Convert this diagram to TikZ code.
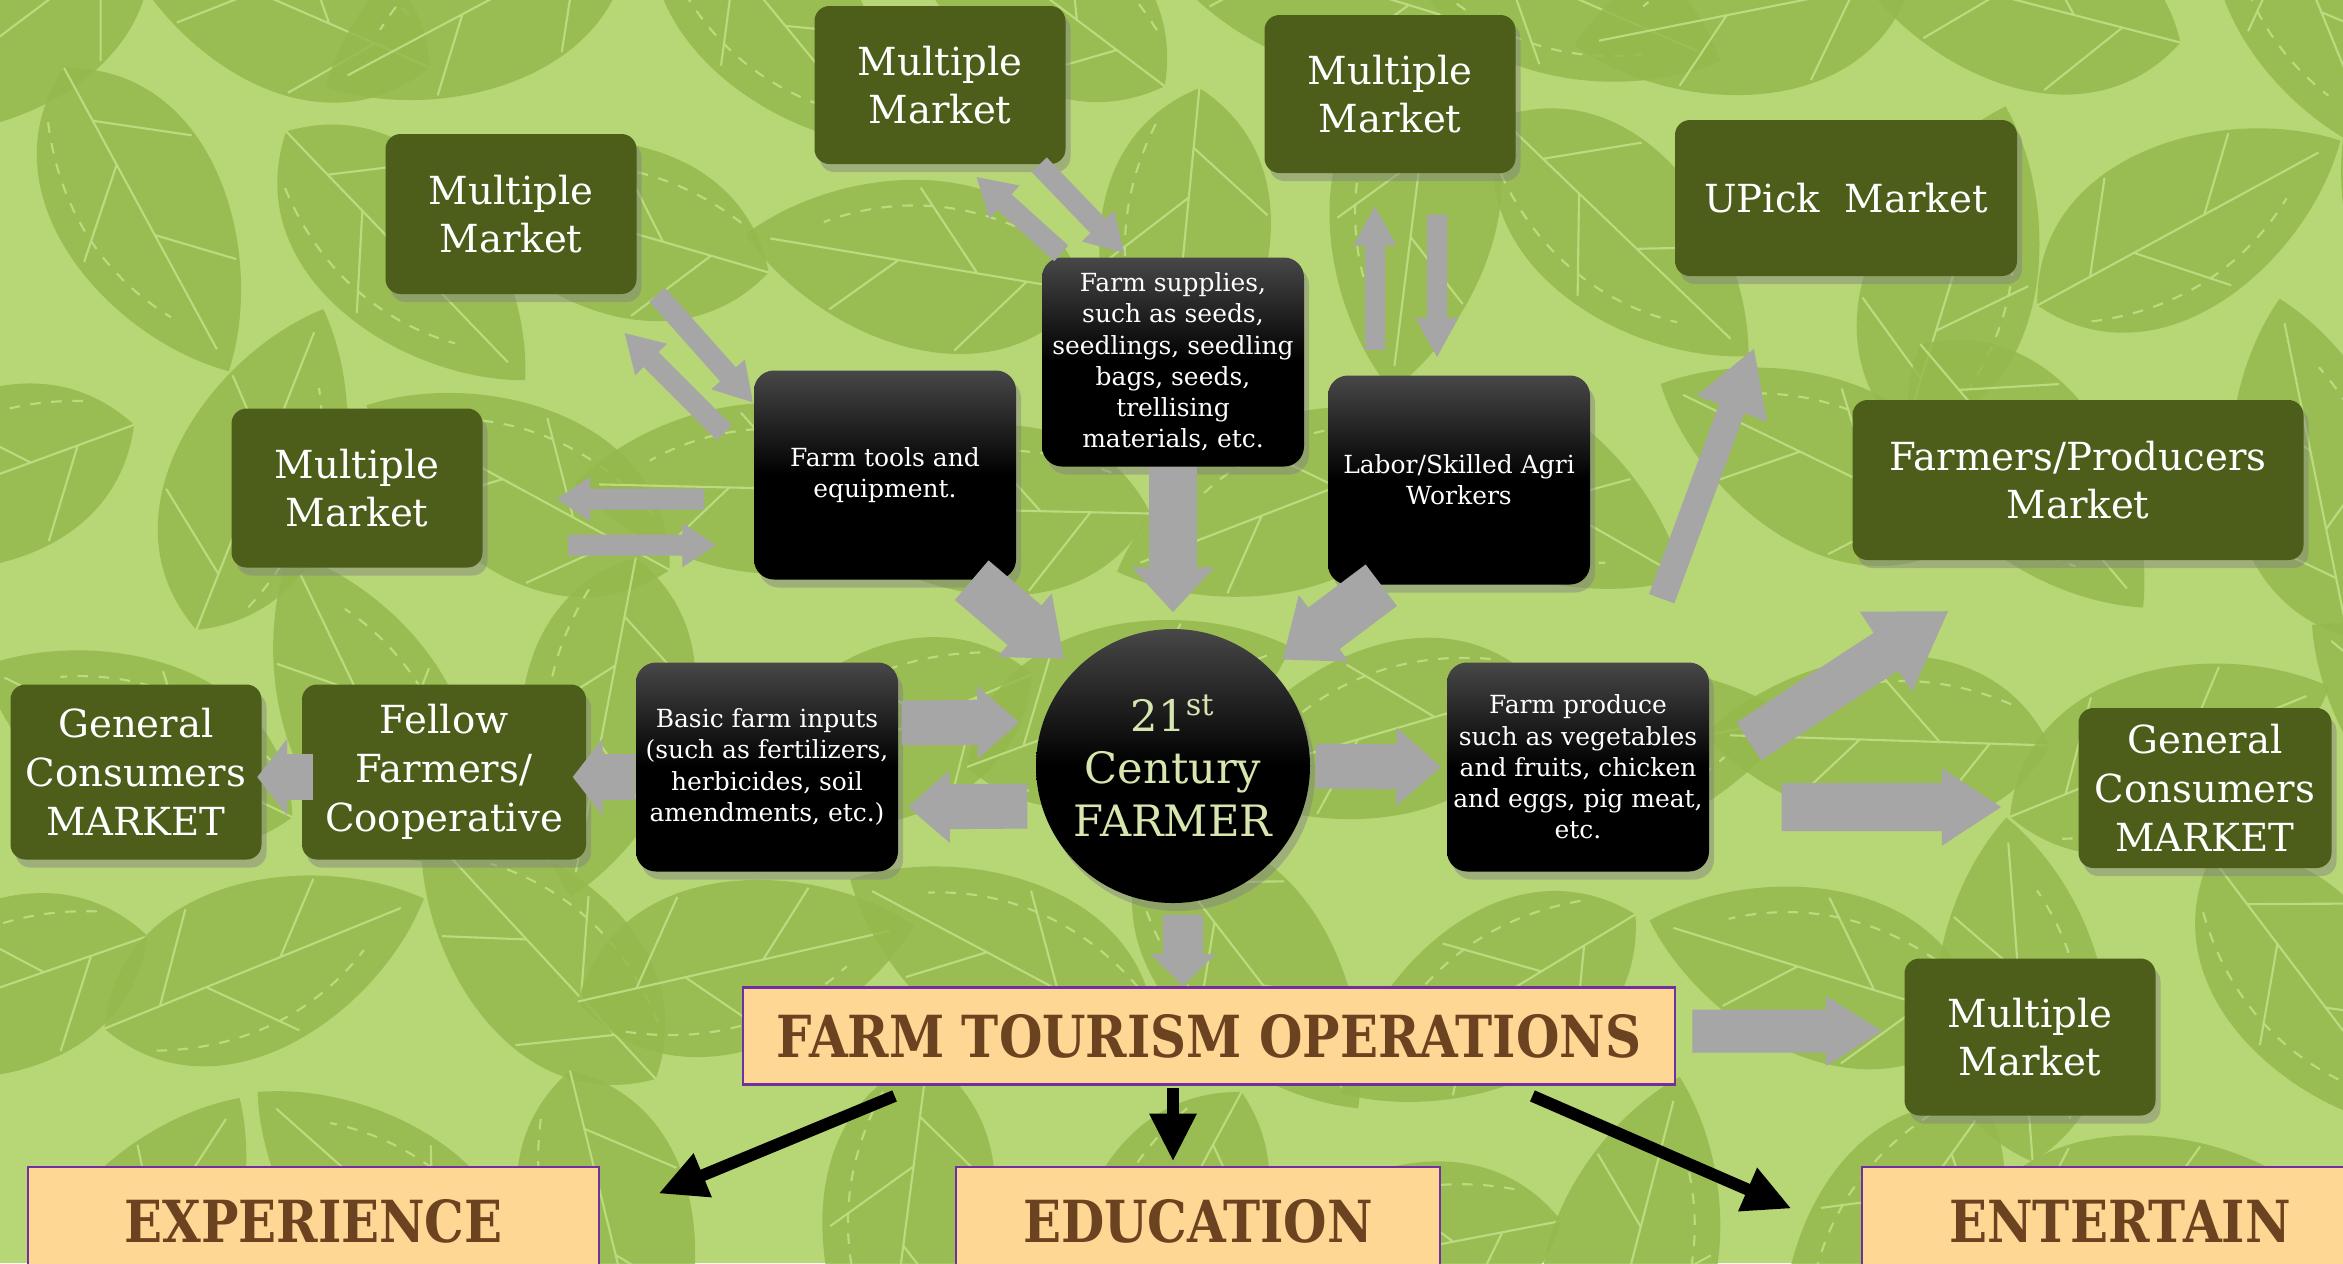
\documentclass[tikz,border=0pt]{standalone}
\usepackage{fontspec}
\setmainfont{DejaVu Serif}
\newfontfamily\headfont[FakeStretch=0.86]{DejaVu Serif}
\usetikzlibrary{arrows.meta,shadows}

\definecolor{bggreen}{RGB}{183,214,118}
\definecolor{leafgreen}{RGB}{150,185,78}
\definecolor{veingreen}{RGB}{188,219,128}
\definecolor{boxgreen}{RGB}{76,94,26}
\definecolor{tanfill}{RGB}{255,215,148}
\definecolor{tanline}{RGB}{112,48,160}
\definecolor{tantext}{RGB}{107,67,33}
\definecolor{farmertext}{RGB}{215,230,175}
\definecolor{arrowgray}{RGB}{166,166,166}

\begin{document}
\begin{tikzpicture}[
  market/.style={rectangle,rounded corners=1.5mm,fill=boxgreen,text=white,align=center,
    inner sep=0pt,font=\fontsize{11}{13.9}\selectfont,
    drop shadow={shadow xshift=.5mm,shadow yshift=-.8mm,opacity=.45}},
  blackbox/.style={rectangle,rounded corners=2mm,top color=black!72,bottom color=black,
    middle color=black,text=white,align=center,inner sep=0pt,minimum width=2.62cm,
    minimum height=2.09cm,font=\fontsize{7.1}{8.9}\selectfont,
    drop shadow={shadow xshift=.5mm,shadow yshift=-.8mm,opacity=.45}},
  farmerdot/.style={circle,minimum size=2.74cm,top color=black!72,bottom color=black,
    middle color=black,text=farmertext,align=center,inner sep=0pt,
    font=\fontsize{12.3}{15}\selectfont,
    drop shadow={shadow xshift=.5mm,shadow yshift=-.8mm,opacity=.45}},
  tanbox/.style={rectangle,fill=tanfill,draw=tanline,line width=.8pt,text=tantext,
    inner sep=0pt,font=\headfont\bfseries\fontsize{16.5}{18}\selectfont},
  garrow/.style args={#1/#2/#3}{draw=arrowgray,line width=#1,-{Triangle[width=#2,length=#3]}},
  barrow/.style={draw=black,line width=1.2mm,-{Triangle[width=4.4mm,length=4.8mm]}},
  leaf/.style={fill=leafgreen,opacity=.85},
  vein/.style={draw=veingreen,line width=.6pt}
]
\useasboundingbox (0,0) rectangle (23.43,-12.63);
\clip (0,0) rectangle (23.43,-12.63);
\fill[bggreen] (0,0) rectangle (23.43,-12.63);

% leaves in the background
\pgfmathsetseed{11}
\foreach \i in {0,...,9}{
  \foreach \j in {0,...,5}{
    \pgfmathsetmacro\lx{\i*2.55-0.4+mod(\j,2)*1.3+rnd*0.8}
    \pgfmathsetmacro\ly{-\j*2.45+0.3-rnd*0.6}
    \pgfmathsetmacro\la{rnd*360}
    \begin{scope}[shift={(\lx,\ly)},rotate=\la]
      \fill[leaf] (0,1.75) .. controls (0.9,0.9) and (1.35,-1.0) .. (0,-1.7)
        .. controls (-1.35,-1.0) and (-0.9,0.9) .. (0,1.75);
      \draw[vein] (0,-1.7) -- (0,1.5) (0,-0.6) -- (0.75,0.1) (0,0.2) -- (-0.6,0.8)
        (0,-1.1) -- (-0.8,-0.5);
      \draw[vein,dashed] (0.4,-1.3) .. controls (0.75,-0.4) and (0.6,0.4) .. (0.25,1.0);
    \end{scope}
  }
}

% markets
\node (mmA)[market,minimum width=2.51cm,minimum height=1.58cm] at (9.40,-0.85) {Multiple\\Market};
\node (mmB)[market,minimum width=2.51cm,minimum height=1.58cm] at (13.90,-0.94) {Multiple\\Market};
\node (mmC)[market,minimum width=2.51cm,minimum height=1.60cm] at (5.11,-2.14) {Multiple\\Market};
\node (mmD)[market,minimum width=2.51cm,minimum height=1.59cm] at (3.57,-4.88) {Multiple\\Market};
\node (upick)[market,minimum width=3.42cm,minimum height=1.56cm] at (18.46,-1.98) {UPick\ \ Market};
\node (fpm)[market,minimum width=4.51cm,minimum height=1.60cm] at (20.78,-4.80) {Farmers/Producers\\Market};
\node (gcR)[market,minimum width=2.53cm,minimum height=1.60cm] at (22.05,-7.88) {General\\Consumers\\MARKET};
\node (mmE)[market,minimum width=2.51cm,minimum height=1.57cm] at (20.30,-10.37) {Multiple\\Market};
\node (gcL)[market,minimum width=2.51cm,minimum height=1.75cm] at (1.36,-7.72) {General\\Consumers\\MARKET};
\node (fellow)[market,minimum width=2.84cm,minimum height=1.75cm] at (4.44,-7.72) {Fellow\\Farmers/\\Cooperative};

% inputs and outputs
\node (tools)[blackbox] at (8.85,-4.75) {Farm tools and\\equipment.};
\node (supplies)[blackbox] at (11.73,-3.62) {Farm supplies,\\such as seeds,\\seedlings, seedling\\bags, seeds,\\trellising\\materials, etc.};
\node (labor)[blackbox] at (14.59,-4.80) {Labor/Skilled Agri\\Workers};
\node (basic)[blackbox] at (7.67,-7.67) {Basic farm inputs\\(such as fertilizers,\\herbicides, soil\\amendments, etc.)};
\node (produce)[blackbox] at (15.78,-7.67) {Farm produce\\such as vegetables\\and fruits, chicken\\and eggs, pig meat,\\etc.};
\node (farmer)[farmerdot] at (11.73,-7.66) {21\textsuperscript{st}\\Century\\FARMER};

% tourism
\node (fto)[tanbox,minimum width=9.32cm,minimum height=.97cm] at (12.09,-10.36) {FARM TOURISM OPERATIONS};
\node (exper)[tanbox,minimum width=5.71cm,minimum height=1.08cm] at (3.135,-12.21) {EXPERIENCE};
\node (educ)[tanbox,minimum width=4.84cm,minimum height=1.08cm] at (11.98,-12.21) {EDUCATION};
\node (entert)[tanbox,minimum width=5.16cm,minimum height=1.08cm] at (21.20,-12.21) {ENTERTAIN};

% grey arrows
\draw[garrow=2.1mm/4.2mm/3.8mm] ([xshift=2mm]mmC.south east) -- ([yshift=-3.3mm]tools.north west);
\draw[garrow=2.1mm/4.2mm/3.8mm] ([shift={(-0.29,-0.63)}]tools.north west) -- ([shift={(-0.13,-0.38)}]mmC.south east);
\draw[garrow=2.1mm/4.2mm/3.4mm,shorten <=4.9mm,shorten >=7.3mm] ([yshift=-2.4mm]tools.west) -- ([yshift=-1.1mm]mmD.east);
\draw[garrow=2.1mm/4.2mm/3.4mm,shorten <=8.5mm,shorten >=3.7mm] ([yshift=-5.7mm]mmD.east) -- ([yshift=-7mm]tools.west);
\draw[garrow=2.1mm/4.2mm/3.8mm] ([shift={(0.2,0.035)}]supplies.north west) -- ([shift={(-0.9,-0.12)}]mmA.south east);
\draw[garrow=2.1mm/4.2mm/3.8mm] ([xshift=-2.7mm]mmA.south east) -- ([shift={(0.83,0.035)}]supplies.north west);
\draw[garrow=2mm/4mm/4mm,shorten <=2.5mm,shorten >=3.2mm] ([xshift=-8.4mm]labor.north) -- ([xshift=-1.5mm]mmB.south);
\draw[garrow=2mm/4mm/4mm,shorten <=4.1mm,shorten >=1.7mm] ([xshift=4.7mm]mmB.south) -- ([xshift=-2.2mm]labor.north);
\draw[garrow=2.7mm/7mm/6.5mm] ([shift={(0.71,-0.135)}]labor.south east) -- ([shift={(0.8,-0.71)}]upick.south west);
\draw[garrow=4.5mm/9mm/7.5mm] ([shift={(0.39,-0.795)}]produce.north east) -- ([shift={(0.97,-0.5)}]fpm.south west);
\draw[garrow=4.8mm/7.3mm/6mm,shorten <=7.2mm,shorten >=7.6mm] ([yshift=-4mm]produce.east) -- ([yshift=-1.9mm]gcR.west);
\draw[garrow=4.3mm/6.6mm/5.7mm,shorten <=1.6mm,shorten >=2.1mm] ([yshift=.5mm]fto.east) -- ([yshift=.6mm]mmE.west);

\draw[garrow=5.2mm/8mm/5.2mm,shorten >=1.5mm] ([xshift=-4.5mm]tools.south east) -- (farmer.north west);
\draw[garrow=4.8mm/8mm/4.5mm,shorten >=1.6mm] (supplies.south) -- (farmer.north);
\draw[garrow=5.2mm/8mm/5.2mm,shorten >=1.5mm] ([xshift=5.4mm]labor.south west) -- (farmer.north east);
\draw[garrow=4.5mm/7mm/4.2mm,shorten <=.3mm,shorten >=1.6mm] ([yshift=4.4mm]basic.east) -- ([yshift=4.4mm]farmer.west);
\draw[garrow=4.5mm/7mm/4.2mm,shorten <=.8mm,shorten >=.9mm] ([yshift=-4mm]farmer.west) -- ([yshift=-4mm]basic.east);
\draw[garrow=4.5mm/7.5mm/4.5mm,shorten <=.5mm,shorten >=.5mm] (farmer.east) -- (produce.west);
\draw[garrow=4mm/6.3mm/3.2mm,shorten <=1.1mm] ([xshift=1mm]farmer.south) -- ([xshift=-2.6mm]fto.north);
\draw[garrow=4.6mm/7.6mm/3mm,shorten >=-1.4mm] ([yshift=-1mm]basic.west) -- ([yshift=-.5mm]fellow.east);
\draw[garrow=4.6mm/7.5mm/3mm,shorten <=-1.2mm,shorten >=-.5mm] ([yshift=-.5mm]fellow.west) -- ([yshift=-.5mm]gcL.east);

% black arrows
\draw[barrow] ([shift={(1.53,-0.1)}]fto.south west) -- ([shift={(0.58,-0.28)}]exper.north east);
\draw[barrow,shorten <=.2mm,shorten >=.4mm] ([xshift=-3.6mm]fto.south) -- ([xshift=-2.5mm]educ.north);
\draw[barrow] ([shift={(-1.44,-0.1)}]fto.south east) -- ([shift={(-0.69,-0.43)}]entert.north west);
\end{tikzpicture}
\end{document}
